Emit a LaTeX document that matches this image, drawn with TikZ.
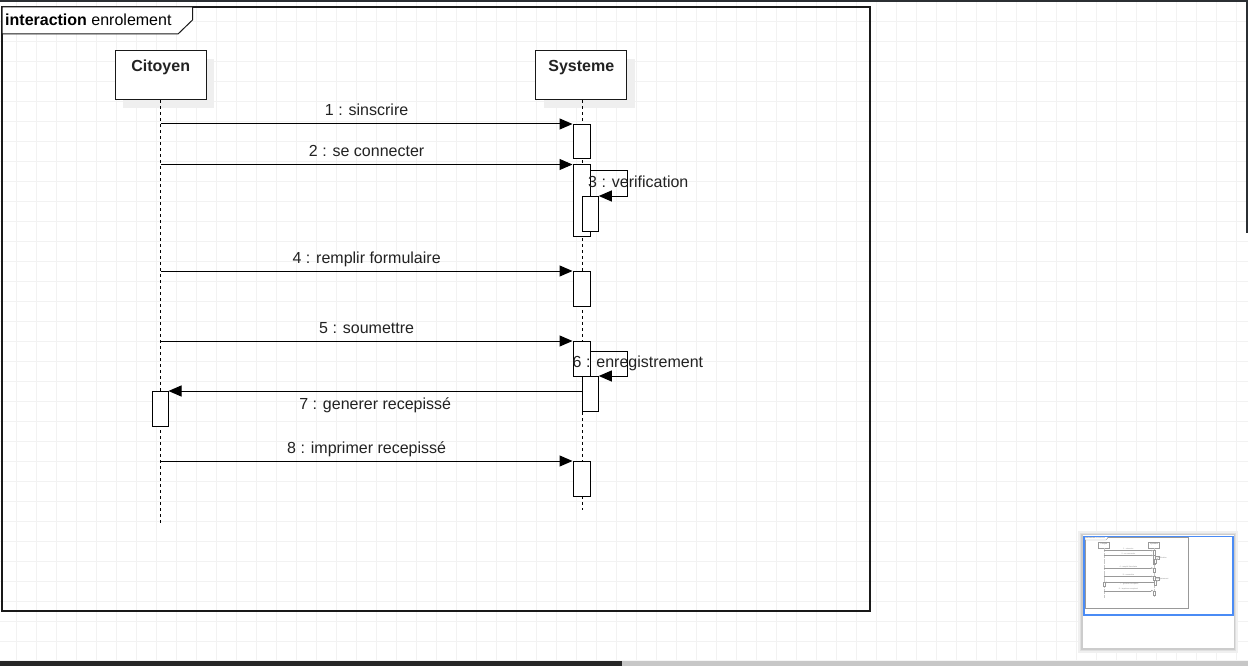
\documentclass[tikz,border=0pt]{standalone}
\usepackage{fontspec}
\setmainfont{Liberation Sans}
\usetikzlibrary{arrows.meta,calc,shadows}
\definecolor{gridc}{HTML}{F2F2F2}
\definecolor{txt}{HTML}{222222}
\definecolor{shad}{HTML}{EFEFEF}
\definecolor{selblue}{HTML}{4A8BF5}
\definecolor{topbar}{HTML}{2B2F33}
\tikzset{
 frm/.style={draw=black!90, line width=1.1pt},
 ttl/.style={draw=black!90, fill=white, line width=1pt},
 actorbox/.style={draw=black!90, fill=white, line width=1pt, minimum width=91pt, minimum height=49pt, inner sep=0pt,
   drop shadow={shadow xshift=8pt, shadow yshift=-8pt, fill=shad, opacity=1}},
 actortxt/.style={font=\fontsize{16}{19}\selectfont\bfseries, text=txt, inner sep=0pt, anchor=base},
 act/.style={draw=black, fill=white, line width=1pt, minimum width=17pt, inner sep=0pt, anchor=north},
 life/.style={draw=black, line width=1pt, dash pattern=on 3pt off 3pt},
 msg/.style={draw=black, line width=1pt, -{Triangle[length=13pt,width=11pt]}},
 lbl/.style={font=\fontsize{16}{19}\selectfont, text=txt, inner sep=0pt, anchor=base},
 ttltxt/.style={font=\fontsize{16}{19}\selectfont, text=black, inner sep=0pt, anchor=base west},
}
\newcommand\seqdiag{%
 \draw[frm] (2,7) rectangle (870,611);
 \draw[ttl] (2,7) -- (192.5,7) -- (192.5,20) -- (178,34) -- (2,34) -- cycle;
 \node[ttltxt] (ttlT) at (5,26) {\textbf{interaction} enrolement};
 \node[actorbox] (cit) at (160.7,75.3) {};
 \node[actortxt] (citT) at (160.7,72) {Citoyen};
 \node[actorbox] (sys) at (581.3,75.3) {};
 \node[actortxt] (sysT) at (581.3,72) {Systeme};
 \coordinate (citE) at (160.7,523);
 \coordinate (sysE) at (582.3,510);
 \draw[life] (cit.south) -- (citE);
 \draw[life] (sysE |- sys.south) -- (sysE);
 \node[act, minimum height=34pt] (a1) at (581.5,124) {};
 \node[act, minimum height=71pt] (a2) at (581.5,164.5) {};
 \node[act, minimum height=35pt, minimum width=16pt] (n3) at (590.3,196) {};
 \node[act, minimum height=35pt] (a4) at (581.5,271) {};
 \node[act, minimum height=35pt] (a5) at (581.5,341) {};
 \node[act, minimum height=35pt, minimum width=16pt] (n6) at (590.3,376) {};
 \node[act, minimum height=35pt, minimum width=16pt] (c7) at (160,391) {};
 \node[act, minimum height=35pt] (a8) at (581.5,461) {};
 \draw[msg] (cit.south |- a1.north west) -- node[lbl, yshift=8pt] (l1) {1 : sinscrire} (a1.north west);
 \draw[msg] (cit.south |- a2.north west) -- node[lbl, yshift=8pt] (l2) {2 : se connecter} (a2.north west);
 \draw[msg] ($(a2.north east)+(0,6.5)$) -- ++(37,0) |- (n3.north east);
 \node[lbl, anchor=base west] (l3) at (588,187) {3 : verification};
 \draw[msg] (cit.south |- a4.north west) -- node[lbl, yshift=8pt] (l4) {4 : remplir formulaire} (a4.north west);
 \draw[msg] (cit.south |- a5.north west) -- node[lbl, yshift=8pt] (l5) {5 : soumettre} (a5.north west);
 \draw[msg] ($(a5.north east)+(0,10)$) -- ++(37,0) |- (n6.north east);
 \node[lbl, anchor=base west] (l6) at (572.5,367) {6 : enregistrement};
 \draw[msg] (n6.west |- c7.north) -- node[lbl, yshift=-18pt] (l7) {7 : generer recepissé} (c7.north east);
 \draw[msg] (cit.south |- a8.north west) -- node[lbl, yshift=8pt] (l8) {8 : imprimer recepissé} (a8.north west);
}
\begin{document}
\begin{tikzpicture}[x=1pt,y=-1pt]
 \useasboundingbox (0,0) rectangle (1248,666);
 \fill[white] (0,0) rectangle (1248,666);
 % grid
 \foreach \gx in {16.5,36.5,...,1240} \draw[gridc, line width=1pt] (\gx,0) -- (\gx,666);
 \foreach \gy in {1.7,21.7,...,662} \draw[gridc, line width=1pt] (0,\gy) -- (1248,\gy);
 % main diagram
 \seqdiag
 % window borders
 \fill[topbar] (0,0) rectangle (1248,1.6);
 \fill[topbar] (1246.4,0) rectangle (1248,233);
 \fill[black!4] (0,659.5) rectangle (1248,661);
 \fill[black!85] (0,661) rectangle (622,666);
 \fill[black!22] (622,661) rectangle (1248,666);
 % minimap
 \fill[black!6] (1078,531) rectangle (1238,653);
 \fill[black!12] (1080,533) rectangle (1236,651);
 \fill[black!20] (1081,534) rectangle (1235,649.5);
 \fill[white] (1082.5,535) rectangle (1234.3,648.3);
 \begin{scope}[shift={(1084.76,535.87)}, scale=0.119, transform shape,
   frm/.style={draw=black!40, line width=0.4pt},
   ttl/.style={draw=black!40, fill=white, line width=0.3pt},
   actorbox/.style={draw=black!40, fill=white, line width=0.3pt, minimum width=91pt, minimum height=49pt, inner sep=0pt},
   actortxt/.style={font=\fontsize{16}{19}\selectfont\bfseries, text=black!45, inner sep=0pt, anchor=base},
   act/.style={draw=black!40, fill=white, line width=0.3pt, minimum width=17pt, inner sep=0pt, anchor=north},
   life/.style={draw=black!22, line width=0.3pt, dash pattern=on 0.5pt off 0.7pt},
   msg/.style={draw=black!40, line width=0.3pt, -{Triangle[length=1.6pt,width=1.4pt]}},
   lbl/.style={font=\fontsize{16}{19}\selectfont, text=black!45, inner sep=0pt, anchor=base},
   ttltxt/.style={font=\fontsize{16}{19}\selectfont, text=black!45, inner sep=0pt, anchor=base west}]
  \seqdiag
 \end{scope}
 \draw[selblue, line width=1.4pt] (1084,536.5) rectangle (1233,615);
\end{tikzpicture}
\end{document}
